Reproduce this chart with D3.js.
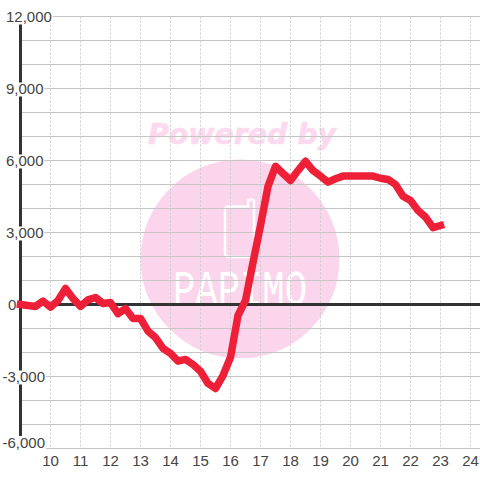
<!DOCTYPE html>
<html>
<head>
<meta charset="utf-8">
<script src="https://cdn.jsdelivr.net/npm/d3@7.9.0/dist/d3.min.js"></script>
<style>
  html, body { margin: 0; padding: 0; background: #fff; }
  svg { display: block; }
  text { font-family: "Liberation Sans", sans-serif; }
</style>
</head>
<body>
<svg id="chart" width="480" height="480"></svg>
<script>
// hours, one reading every 15 minutes from 9:00 to 23:00
const hours = d3.range(0, 57).map(i => 9 + i / 4);
const values = [
  0, -40, -80, 140, -110, 170, 670, 250,
  -80, 190, 290, 40, 80, -380, -170, -580,
  -580, -1110, -1380, -1830, -2040, -2360, -2290, -2500,
  -2780, -3290, -3500, -2960, -2200, -460, 170, 1750,
  3290, 4920, 5760, 5460, 5170, 5580, 5970, 5580,
  5350, 5100, 5240, 5350, 5350, 5350, 5350, 5350,
  5260, 5210, 5000, 4510, 4330, 3920, 3640, 3200,
  3290
];
const xTicks = d3.range(10, 25);
const yLabelTicks = [12000, 9000, 6000, 3000, 0, -3000, -6000];
const yGridTicks = d3.range(-6000, 12001, 1000);

const svg = d3.select('#chart');
const x = d3.scaleLinear().domain([9, 24]).range([20.5, 470.5]);
const y = d3.scaleLinear().domain([-6000, 12000]).range([448.5, 16.5]);
// plain hyphen for negatives, like the original labels
const fmt = d => d3.format(',')(d).replace('\u2212', '-');

// watermark behind the grid
const mark = svg.append('g');
mark.append('circle').attr('cx', 240).attr('cy', 259).attr('r', 99.5).attr('fill', '#fbd5ec');
mark.append('text')
  .attr('x', 148).attr('y', 144)
  .attr('font-size', 29).attr('font-weight', 'bold').attr('font-style', 'italic')
  .attr('fill', '#fcd9ee').attr('stroke', '#fcd9ee').attr('stroke-width', 0.6)
  .style('font-family', '"DejaVu Sans", sans-serif')
  .attr('textLength', 188).attr('lengthAdjust', 'spacingAndGlyphs')
  .text('Powered by');
mark.append('path')
  .attr('d', 'M229 206.5H248V201.5Q248 199.5 251 199.5Q254 199.5 254 201.5V257H229Q225 257 225 253V210.5Q225 206.5 229 206.5Z')
  .attr('fill', 'none').attr('stroke', '#fff').attr('stroke-width', 2.5);
mark.append('text')
  .attr('x', 173).attr('y', 305)
  .attr('font-size', 50).attr('fill', '#fff')
  .style('font-family', '"Liberation Mono", monospace')
  .attr('textLength', 134).attr('lengthAdjust', 'spacingAndGlyphs')
  .text('PAPIMO');

// grid
svg.append('g').selectAll('line').data(yGridTicks).join('line')
  .attr('x1', x(9)).attr('x2', 480)
  .attr('y1', d => y(d)).attr('y2', d => y(d))
  .attr('stroke', '#c6c6c6').attr('stroke-width', 1);

svg.append('g').selectAll('line').data(xTicks).join('line')
  .attr('x1', d => x(d)).attr('x2', d => x(d))
  .attr('y1', y(12000)).attr('y2', y(-6000) - 2)
  .attr('stroke', '#ccc').attr('stroke-width', 1)
  .attr('stroke-dasharray', '2,2');

// zero line and left axis
svg.append('line')
  .attr('x1', x(9)).attr('x2', 480)
  .attr('y1', y(0)).attr('y2', y(0))
  .attr('stroke', '#333').attr('stroke-width', 3);
svg.append('line')
  .attr('x1', x(9)).attr('x2', x(9))
  .attr('y1', y(12000)).attr('y2', y(-6000))
  .attr('stroke', '#333').attr('stroke-width', 3);

// y labels sit on white boxes that cut the axis and the grid
const yLabels = svg.append('g').selectAll('g').data(yLabelTicks).join('g')
  .attr('transform', d => `translate(${d < 0 ? 2.5 : d === 0 ? 8 : 6},${Math.min(y(d), 442)})`);
const yText = yLabels.append('text')
  .attr('y', 5.5)
  .attr('font-size', 15).attr('fill', '#444')
  .text(d => fmt(d));
yLabels.insert('rect', 'text')
  .attr('x', -1).attr('y', -6)
  .attr('width', (d, i) => yText.nodes()[i].getComputedTextLength() + 2)
  .attr('height', 14)
  .attr('fill', '#fff');

// x labels
svg.append('g').selectAll('text').data(xTicks).join('text')
  .attr('x', d => x(d))
  .attr('y', 466)
  .attr('text-anchor', 'middle')
  .attr('font-size', 15).attr('fill', '#444')
  .text(d => d);

// series
const line = d3.line().x(d => x(d[0])).y(d => y(d[1]));
svg.append('path')
  .attr('d', line(hours.map((h, i) => [h, values[i]])))
  .attr('fill', 'none')
  .attr('stroke', '#ee2038')
  .attr('stroke-width', 7.5)
  .attr('stroke-linejoin', 'round')
  .attr('stroke-linecap', 'square');
</script>
</body>
</html>
